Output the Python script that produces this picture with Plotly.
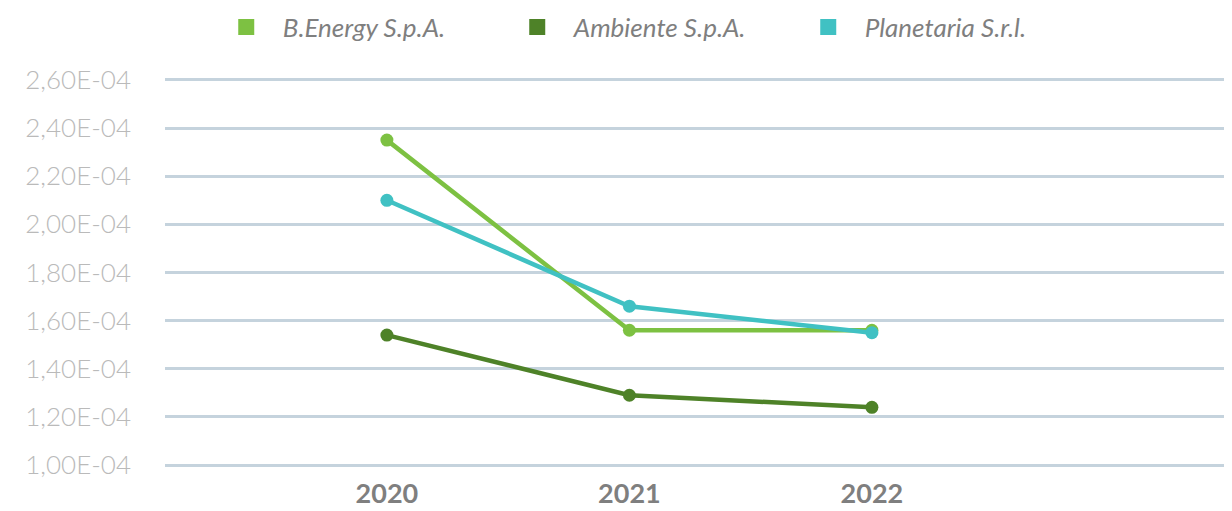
import plotly.graph_objects as go

years = ['2020', '2021', '2022']
b_energy = [2.35e-4, 1.56e-4, 1.56e-4]
ambiente = [1.54e-4, 1.29e-4, 1.24e-4]
planetaria = [2.10e-4, 1.66e-4, 1.55e-4]

series_names = ['B.Energy S.p.A.', 'Ambiente S.p.A.', 'Planetaria S.r.l.']
series_colors = ['#7dc142', '#4e8228', '#40c1c3']

y_ticks = [1.0e-4, 1.2e-4, 1.4e-4, 1.6e-4, 1.8e-4, 2.0e-4, 2.2e-4, 2.4e-4, 2.6e-4]
y_tick_labels = ['1,00E-04', '1,20E-04', '1,40E-04', '1,60E-04', '1,80E-04',
                 '2,00E-04', '2,20E-04', '2,40E-04', '2,60E-04']


def main():
    fig = go.Figure()

    for name, values, color in zip(series_names, [b_energy, ambiente, planetaria], series_colors):
        fig.add_trace(go.Scatter(
            x=years, y=values, name=name, mode='lines+markers',
            line=dict(color=color, width=4.5),
            marker=dict(color=color, size=13),
            showlegend=False,
        ))

    # square swatches for the legend
    for name, color in zip(series_names, series_colors):
        fig.add_trace(go.Scatter(
            x=[None], y=[None], name=name, mode='markers',
            marker=dict(color=color, size=17, symbol='square'),
        ))

    # the page body adds an 8px offset, so the figure is a little smaller
    fig.update_layout(
        width=1224, height=503,
        margin=dict(l=157, r=7, t=70, b=44),
        paper_bgcolor='white', plot_bgcolor='white',
        font=dict(family='Lato', color='#7f7f7f'),
        legend=dict(
            orientation='h', x=0.454, xanchor='center',
            y=0.962, yanchor='middle', yref='container',
            font=dict(family='Lato', size=26, color='#7f7f7f', style='italic'),
            entrywidth=213, itemwidth=63,
        ),
        xaxis=dict(
            type='category', range=[-0.915, 3.456], automargin=False,
            showgrid=False, zeroline=False, showline=False,
            tickfont=dict(family='Lato', size=27, color='#7f7f7f', weight='bold'),
            ticks='', ticklabelstandoff=8,
        ),
        yaxis=dict(
            range=[0.992e-4, 2.608e-4], automargin=False,
            tickvals=y_ticks, ticktext=y_tick_labels,
            showgrid=True, gridcolor='#c5d3dd', gridwidth=2.5,
            zeroline=False, showline=False,
            tickfont=dict(family='Lato', size=26, color='#bababa', weight=300),
            ticks='', ticklabelstandoff=33,
        ),
    )

    fig.write_html('out.html')


if __name__ == '__main__':
    main()
